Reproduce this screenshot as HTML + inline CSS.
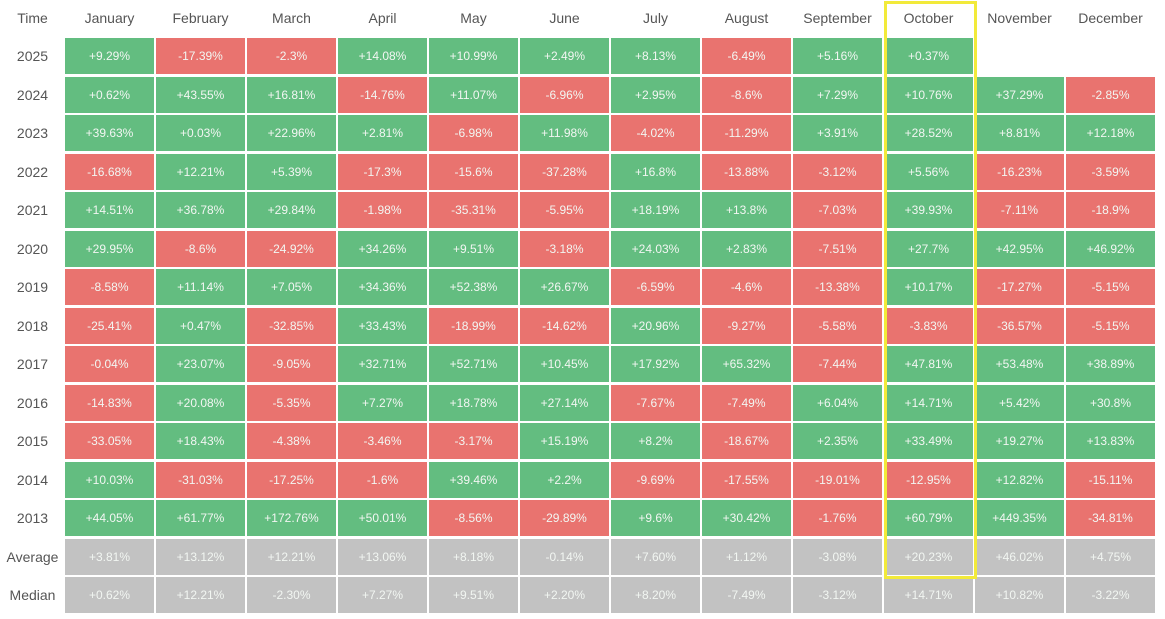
<!DOCTYPE html>
<html><head><style>
body{margin:0;width:1165px;height:619px;background:#fff;position:relative;overflow:hidden;font-family:"Liberation Sans",sans-serif;}
.c{position:absolute;width:89px;height:36px;line-height:36px;text-align:center;color:#f2f6f2;font-size:12px;}
.g{background:#63bd80}.r{background:#e9736f}.a{background:#c2c2c2}
.h{position:absolute;text-align:center;color:#555;font-size:14px;}
</style></head><body>
<div id="t"></div>
<div style="position:absolute;left:884px;top:1px;width:87px;height:572px;border:3px solid #f2ea3a;"></div>
<script>
var months=["January","February","March","April","May","June","July","August","September","October","November","December"];
var rows=[
["2025","+9.29%","-17.39%","-2.3%","+14.08%","+10.99%","+2.49%","+8.13%","-6.49%","+5.16%","+0.37%","",""],
["2024","+0.62%","+43.55%","+16.81%","-14.76%","+11.07%","-6.96%","+2.95%","-8.6%","+7.29%","+10.76%","+37.29%","-2.85%"],
["2023","+39.63%","+0.03%","+22.96%","+2.81%","-6.98%","+11.98%","-4.02%","-11.29%","+3.91%","+28.52%","+8.81%","+12.18%"],
["2022","-16.68%","+12.21%","+5.39%","-17.3%","-15.6%","-37.28%","+16.8%","-13.88%","-3.12%","+5.56%","-16.23%","-3.59%"],
["2021","+14.51%","+36.78%","+29.84%","-1.98%","-35.31%","-5.95%","+18.19%","+13.8%","-7.03%","+39.93%","-7.11%","-18.9%"],
["2020","+29.95%","-8.6%","-24.92%","+34.26%","+9.51%","-3.18%","+24.03%","+2.83%","-7.51%","+27.7%","+42.95%","+46.92%"],
["2019","-8.58%","+11.14%","+7.05%","+34.36%","+52.38%","+26.67%","-6.59%","-4.6%","-13.38%","+10.17%","-17.27%","-5.15%"],
["2018","-25.41%","+0.47%","-32.85%","+33.43%","-18.99%","-14.62%","+20.96%","-9.27%","-5.58%","-3.83%","-36.57%","-5.15%"],
["2017","-0.04%","+23.07%","-9.05%","+32.71%","+52.71%","+10.45%","+17.92%","+65.32%","-7.44%","+47.81%","+53.48%","+38.89%"],
["2016","-14.83%","+20.08%","-5.35%","+7.27%","+18.78%","+27.14%","-7.67%","-7.49%","+6.04%","+14.71%","+5.42%","+30.8%"],
["2015","-33.05%","+18.43%","-4.38%","-3.46%","-3.17%","+15.19%","+8.2%","-18.67%","+2.35%","+33.49%","+19.27%","+13.83%"],
["2014","+10.03%","-31.03%","-17.25%","-1.6%","+39.46%","+2.2%","-9.69%","-17.55%","-19.01%","-12.95%","+12.82%","-15.11%"],
["2013","+44.05%","+61.77%","+172.76%","+50.01%","-8.56%","-29.89%","+9.6%","+30.42%","-1.76%","+60.79%","+449.35%","-34.81%"],
["Average","+3.81%","+13.12%","+12.21%","+13.06%","+8.18%","-0.14%","+7.60%","+1.12%","-3.08%","+20.23%","+46.02%","+4.75%"],
["Median","+0.62%","+12.21%","-2.30%","+7.27%","+9.51%","+2.20%","+8.20%","-7.49%","-3.12%","+14.71%","+10.82%","-3.22%"]];
var h='<div class="h" style="left:0;width:65px;top:10px">Time</div>';
months.forEach(function(m,i){h+='<div class="h" style="left:'+(65+i*91)+'px;width:89px;top:10px">'+m+'</div>';});
rows.forEach(function(r,j){var y=38+j*38.5;
h+='<div class="h" style="left:0;width:65px;top:'+(y+10)+'px">'+r[0]+'</div>';
for(var i=1;i<13;i++){var v=r[i];if(!v)continue;var cl=j>=13?'a':(v[0]=='-'?'r':'g');
h+='<div class="c '+cl+'" style="left:'+(65+(i-1)*91)+'px;top:'+y+'px">'+v+'</div>';}});
document.getElementById('t').innerHTML=h;
</script>
</body></html>
